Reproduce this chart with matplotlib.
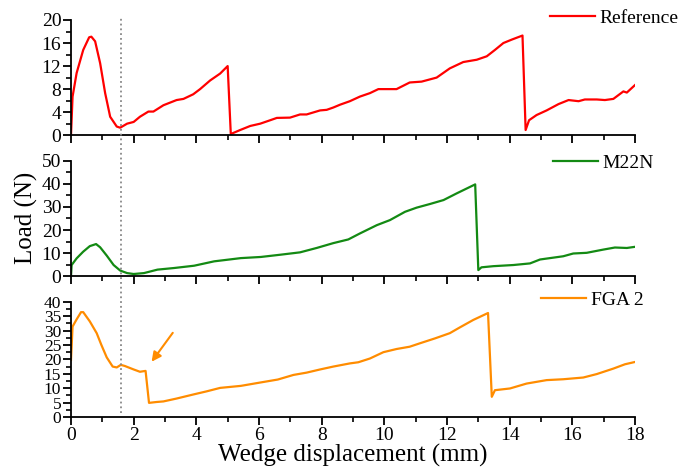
import numpy as np
import matplotlib
matplotlib.use("Agg")
from matplotlib import pyplot as plt
from matplotlib.lines import Line2D
from matplotlib.ticker import MultipleLocator
import matplotlib.transforms as mtransforms

plt.rcParams['font.family'] = ['Liberation Serif', 'DejaVu Serif']
plt.rcParams['mathtext.fontset'] = 'stix'

# Reference curve
ref_x = [0.0, 0.05, 0.18, 0.39, 0.58, 0.65, 0.77, 0.93, 1.09, 1.25, 1.46, 1.57, 1.79, 2.0, 2.2, 2.47,
         2.63, 2.95, 3.37, 3.59, 3.9, 4.12, 4.44, 4.76, 5.0, 5.1, 5.4, 5.72, 6.04, 6.36, 6.57, 6.99,
         7.31, 7.52, 7.95, 8.16, 8.37, 8.59, 8.9, 9.22, 9.54, 9.81, 10.39, 10.81, 11.19, 11.67, 12.09,
         12.52, 12.95, 13.27, 13.53, 13.8, 14.07, 14.41, 14.51, 14.62, 14.86, 15.18, 15.56, 15.88,
         16.2, 16.4, 16.78, 17.04, 17.31, 17.63, 17.74, 18.0]
ref_y = [0.0, 6.7, 10.8, 14.8, 17.0, 17.1, 16.3, 12.5, 7.3, 3.2, 1.5, 1.3, 2.0, 2.3, 3.2, 4.1,
         4.1, 5.2, 6.1, 6.3, 7.1, 8.0, 9.5, 10.7, 12.0, 0.2, 0.9, 1.6, 2.0, 2.6, 3.0, 3.05,
         3.6, 3.6, 4.3, 4.4, 4.8, 5.3, 5.9, 6.7, 7.3, 8.0, 8.0, 9.15, 9.3, 10.0, 11.6,
         12.7, 13.1, 13.7, 14.8, 16.0, 16.6, 17.3, 0.9, 2.6, 3.5, 4.3, 5.4, 6.1,
         5.9, 6.2, 6.2, 6.1, 6.3, 7.6, 7.4, 8.7]

# M22N curve
m22_x = [0.0, 0.02, 0.18, 0.39, 0.6, 0.8, 0.93, 1.14, 1.36, 1.57, 1.79, 2.0, 2.33, 2.76, 3.29,
         3.93, 4.57, 5.42, 6.06, 6.7, 7.31, 7.84, 8.37, 8.85, 9.22, 9.76, 10.18, 10.66, 11.03,
         11.46, 11.89, 12.31, 12.9, 13.0, 13.1, 13.48, 14.12, 14.65, 14.97, 15.71, 16.03, 16.46,
         16.99, 17.36, 17.74, 18.0]
m22_y = [0.0, 4.8, 7.7, 10.6, 13.0, 13.9, 12.5, 8.9, 4.8, 2.4, 1.3, 0.9, 1.3, 2.8, 3.5,
         4.5, 6.4, 7.8, 8.3, 9.3, 10.3, 12.2, 14.3, 15.9, 18.5, 22.1, 24.3, 27.9, 29.7,
         31.3, 33.0, 35.9, 39.8, 2.6, 3.8, 4.3, 4.8, 5.5, 7.2, 8.6, 9.8, 10.1,
         11.5, 12.4, 12.2, 12.7]

# FGA 2 curve
fga_x = [0.0, 0.05, 0.18, 0.32, 0.39, 0.6, 0.82, 0.97, 1.14, 1.33, 1.46, 1.59, 1.72, 2.0, 2.2,
         2.38, 2.49, 2.73, 2.95, 3.37, 3.9, 4.33, 4.76, 5.42, 6.06, 6.6, 7.1, 7.52, 7.95, 8.37,
         8.9, 9.17, 9.54, 9.97, 10.39, 10.81, 11.14, 11.62, 12.09, 12.41, 12.84, 13.31, 13.43,
         13.53, 14.01, 14.54, 15.18, 15.71, 16.03, 16.35, 16.78, 17.31, 17.68, 18.0]
fga_y = [19.8, 31.4, 33.9, 36.4, 36.4, 33.2, 29.1, 25.0, 20.7, 17.5, 17.2, 18.1, 17.7, 16.5, 15.7,
         16.0, 4.9, 5.2, 5.4, 6.4, 7.8, 8.9, 10.1, 10.8, 12.0, 13.0, 14.6, 15.4, 16.5, 17.5,
         18.6, 19.0, 20.3, 22.5, 23.6, 24.4, 25.6, 27.3, 29.1, 31.1, 33.7, 36.1, 7.0,
         9.3, 9.9, 11.6, 12.8, 13.1, 13.4, 13.7, 14.9, 16.8, 18.3, 19.1]

labels = ['Reference', 'M22N', 'FGA 2']
colors = ['#ff0000', '#138a13', '#ff8c00']
ylims = [20, 50, 40]
ymajor = [4, 10, 5]
yminor = [2, 5, 2.5]

fig = plt.figure(figsize=(6.92, 4.76), dpi=100)
left, width = 0.1026, 0.8150
bottoms = [0.716, 0.420, 0.124]
height = 0.242

axes = []
series = [(ref_x, ref_y), (m22_x, m22_y), (fga_x, fga_y)]
leg_pos = [(0.795, 0.962), (0.799, 0.657), (0.782, 0.370)]
for i in range(3):
    ax = fig.add_axes([left, bottoms[i], width, height])
    x, y = series[i]
    ln, = ax.plot(x, y, color=colors[i], lw=1.6)
    ax.set_xlim(0, 18)
    ax.set_ylim(0, ylims[i])
    ax.xaxis.set_major_locator(MultipleLocator(2))
    ax.xaxis.set_minor_locator(MultipleLocator(1))
    ax.yaxis.set_major_locator(MultipleLocator(ymajor[i]))
    ax.yaxis.set_minor_locator(MultipleLocator(yminor[i]))
    for s in ['top', 'right']:
        ax.spines[s].set_visible(False)
    for s in ['left', 'bottom']:
        ax.spines[s].set_linewidth(1.3)
    ax.tick_params(which='major', direction='out', length=6, width=1.3, labelsize=14, pad=1)
    ax.tick_params(which='minor', direction='out', length=3.5, width=1.2)
    if i < 2:
        ax.tick_params(axis='x', labelbottom=False)
    ax.legend([ln], [labels[i]], loc='center left', bbox_to_anchor=leg_pos[i],
              bbox_transform=fig.transFigure, frameon=False, fontsize=14,
              handlelength=2.3, handletextpad=0.25, borderpad=0, borderaxespad=0)
    axes.append(ax)

# tight tick labels on the bottom panel, as in the picture
axes[2].tick_params(axis='y', which='major', labelsize=12.5)

axes[2].set_xlabel('Wedge displacement (mm)', fontsize=18, labelpad=0)
fig.text(0.038, 0.542, 'Load (N)', rotation=90, fontsize=18, ha='center', va='center')

# arrow on the FGA 2 panel
axes[2].annotate('', xy=(2.52, 18.4), xytext=(3.3, 30),
                 arrowprops=dict(arrowstyle='-|>', color=colors[2], lw=1.5, mutation_scale=14))

# dotted guide line across all panels
trans = mtransforms.blended_transform_factory(axes[0].transData, fig.transFigure)
fig.add_artist(Line2D([1.6, 1.6], [1 - 413 / 476, 1 - 17 / 476], transform=trans,
                      color='#888888', ls=':', lw=1.3))

fig.savefig('out.png', dpi=100)
